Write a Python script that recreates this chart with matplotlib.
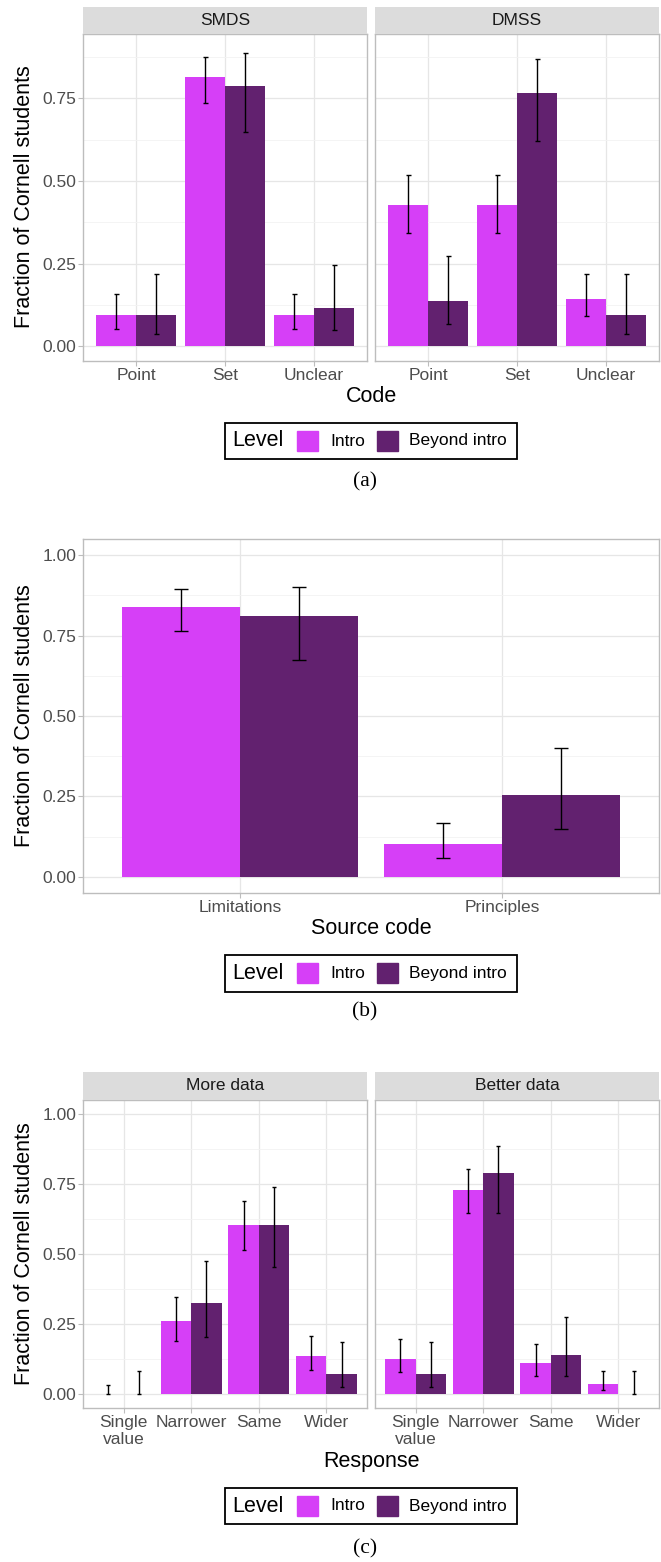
import numpy as np
import matplotlib
matplotlib.use("Agg")
import matplotlib.pyplot as plt
from matplotlib.patches import Rectangle

plt.rcParams['font.family'] = ['Liberation Sans', 'DejaVu Sans']

levels = ["Intro", "Beyond intro"]
colours = ["#D63FF7", "#62216F"]

# (a) code by facet
codes_a = ["Point", "Set", "Unclear"]
facets_a = ["SMDS", "DMSS"]
smds_intro = [0.093, 0.815, 0.093]
smds_intro_lo = [0.052, 0.736, 0.052]
smds_intro_hi = [0.158, 0.875, 0.158]
smds_beyond = [0.093, 0.789, 0.116]
smds_beyond_lo = [0.037, 0.648, 0.050]
smds_beyond_hi = [0.217, 0.887, 0.246]
dmss_intro = [0.427, 0.427, 0.142]
dmss_intro_lo = [0.344, 0.344, 0.091]
dmss_intro_hi = [0.519, 0.519, 0.217]
dmss_beyond = [0.138, 0.766, 0.093]
dmss_beyond_lo = [0.066, 0.622, 0.037]
dmss_beyond_hi = [0.273, 0.869, 0.217]

# (b) source code
codes_b = ["Limitations", "Principles"]
src_intro = [0.839, 0.101]
src_intro_lo = [0.763, 0.060]
src_intro_hi = [0.895, 0.169]
src_beyond = [0.812, 0.256]
src_beyond_lo = [0.674, 0.149]
src_beyond_hi = [0.902, 0.402]

# (c) response by facet
codes_c = ["Single\nvalue", "Narrower", "Same", "Wider"]
facets_c = ["More data", "Better data"]
more_intro = [0.0, 0.260, 0.605, 0.135]
more_intro_lo = [0.0, 0.190, 0.513, 0.086]
more_intro_hi = [0.032, 0.347, 0.689, 0.208]
more_beyond = [0.0, 0.325, 0.605, 0.070]
more_beyond_lo = [0.0, 0.205, 0.455, 0.025]
more_beyond_hi = [0.082, 0.475, 0.738, 0.186]
better_intro = [0.126, 0.730, 0.109, 0.034]
better_intro_lo = [0.077, 0.645, 0.065, 0.014]
better_intro_hi = [0.198, 0.804, 0.179, 0.083]
better_beyond = [0.070, 0.790, 0.139, 0.0]
better_beyond_lo = [0.025, 0.647, 0.066, 0.0]
better_beyond_hi = [0.186, 0.886, 0.274, 0.082]

W, H = 661, 1562
fig = plt.figure(figsize=(W / 100, H / 100), dpi=100)


def box(x0, y0, x1, y1):
    # pixel box -> figure fraction
    return [x0 / W, 1 - y1 / H, (x1 - x0) / W, (y1 - y0) / H]


def panel(ax, cats, series, ylim, yticks, show_y, capsize):
    x = np.arange(len(cats))
    w = 0.45
    for k, (vals, lo, hi) in enumerate(series):
        xs = x + (k - 0.5) * w
        vals = np.array(vals)
        ax.bar(xs, vals, width=w, color=colours[k], linewidth=0, zorder=2)
        ax.errorbar(xs, vals, yerr=[vals - np.array(lo), np.array(hi) - vals],
                    fmt='none', ecolor='black', elinewidth=1.0, capsize=capsize,
                    capthick=1.0, zorder=3)
    ax.set_xlim(-0.6, len(cats) - 0.4)
    ax.set_ylim(*ylim)
    ax.set_xticks(x)
    ax.set_xticklabels(cats)
    ax.set_yticks(yticks)
    ax.set_yticklabels([f"{v:.2f}" for v in yticks])
    minor = [(a + b) / 2 for a, b in zip(yticks[:-1], yticks[1:])]
    if ylim[1] > yticks[-1] + 0.125:
        minor.append(yticks[-1] + 0.125)
    ax.set_yticks(minor, minor=True)
    ax.set_axisbelow(True)
    ax.grid(which='major', color='#E6E6E6', linewidth=0.9)
    ax.grid(which='minor', axis='y', color='#F2F2F2', linewidth=0.6)
    for s in ax.spines.values():
        s.set_color('#BDBDBD')
        s.set_linewidth(1.0)
    ax.tick_params(which='major', length=3.5, width=0.8, color='#BDBDBD',
                   labelsize=12.5, labelcolor='#4D4D4D', pad=1.5)
    ax.tick_params(which='minor', length=0)
    if not show_y:
        ax.tick_params(axis='y', which='major', length=0, labelleft=False)


def strip(rect, label):
    s = fig.add_axes(box(*rect))
    s.set_facecolor('#DCDCDC')
    s.set_xticks([])
    s.set_yticks([])
    for sp in s.spines.values():
        sp.set_visible(False)
    s.text(0.5, 0.5, label, ha='center', va='center', fontsize=12.5,
           color='#1A1A1A', transform=s.transAxes)


def legend(y0, y1):
    lg = fig.add_axes(box(225, y0, 517, y1))
    lg.set_xlim(0, 292)
    lg.set_ylim(0, y1 - y0)
    lg.axis('off')
    h = y1 - y0
    lg.add_patch(Rectangle((0, 0), 292, h, fill=False, edgecolor='black',
                           linewidth=1.3, clip_on=False))
    lg.text(7, h / 2, "Level", fontsize=15.5, va='center', ha='left')
    lg.add_patch(Rectangle((72, h / 2 - 10), 21, 20, color=colours[0]))
    lg.text(105, h / 2, levels[0], fontsize=12.5, va='center', ha='left')
    lg.add_patch(Rectangle((152, h / 2 - 10), 21, 20, color=colours[1]))
    lg.text(184, h / 2, levels[1], fontsize=12.5, va='center', ha='left')


def caption(y, label):
    fig.text(365 / W, 1 - y / H, label, ha='center', va='center',
             fontsize=15.5, family='Liberation Serif')


def ylabel(y):
    fig.text(25 / W, 1 - y / H, "Fraction of Cornell students", rotation=90,
             ha='center', va='center', fontsize=15.5)


def xlabel(y, label):
    fig.text(371 / W, 1 - y / H, label, ha='center', va='center', fontsize=15.5)


# ---- (a)
ticks_a = [0.0, 0.25, 0.5, 0.75]
ax1 = fig.add_axes(box(83, 34, 367, 361))
panel(ax1, codes_a, [(smds_intro, smds_intro_lo, smds_intro_hi),
                     (smds_beyond, smds_beyond_lo, smds_beyond_hi)],
      (-0.045, 0.945), ticks_a, True, 1.8)
ax2 = fig.add_axes(box(375, 34, 659, 361))
panel(ax2, codes_a, [(dmss_intro, dmss_intro_lo, dmss_intro_hi),
                     (dmss_beyond, dmss_beyond_lo, dmss_beyond_hi)],
      (-0.045, 0.945), ticks_a, False, 1.8)
strip((83, 7, 367, 34), facets_a[0])
strip((375, 7, 659, 34), facets_a[1])
ylabel(197)
xlabel(397, "Code")
legend(423, 459)
caption(482, "(a)")

# ---- (b)
ticks_bc = [0.0, 0.25, 0.5, 0.75, 1.0]
ax3 = fig.add_axes(box(83, 539, 659, 893))
panel(ax3, codes_b, [(src_intro, src_intro_lo, src_intro_hi),
                     (src_beyond, src_beyond_lo, src_beyond_hi)],
      (-0.05, 1.05), ticks_bc, True, 4.7)
ylabel(716)
xlabel(928, "Source code")
legend(955, 992)
caption(1012, "(b)")

# ---- (c)
ax4 = fig.add_axes(box(83, 1100, 367, 1408))
panel(ax4, codes_c, [(more_intro, more_intro_lo, more_intro_hi),
                     (more_beyond, more_beyond_lo, more_beyond_hi)],
      (-0.05, 1.05), ticks_bc, True, 1.4)
ax5 = fig.add_axes(box(375, 1100, 659, 1408))
panel(ax5, codes_c, [(better_intro, better_intro_lo, better_intro_hi),
                     (better_beyond, better_beyond_lo, better_beyond_hi)],
      (-0.05, 1.05), ticks_bc, False, 1.4)
strip((83, 1072, 367, 1100), facets_c[0])
strip((375, 1072, 659, 1100), facets_c[1])
ylabel(1254)
xlabel(1462, "Response")
legend(1488, 1524)
caption(1549, "(c)")

fig.savefig("out.png", dpi=100)
